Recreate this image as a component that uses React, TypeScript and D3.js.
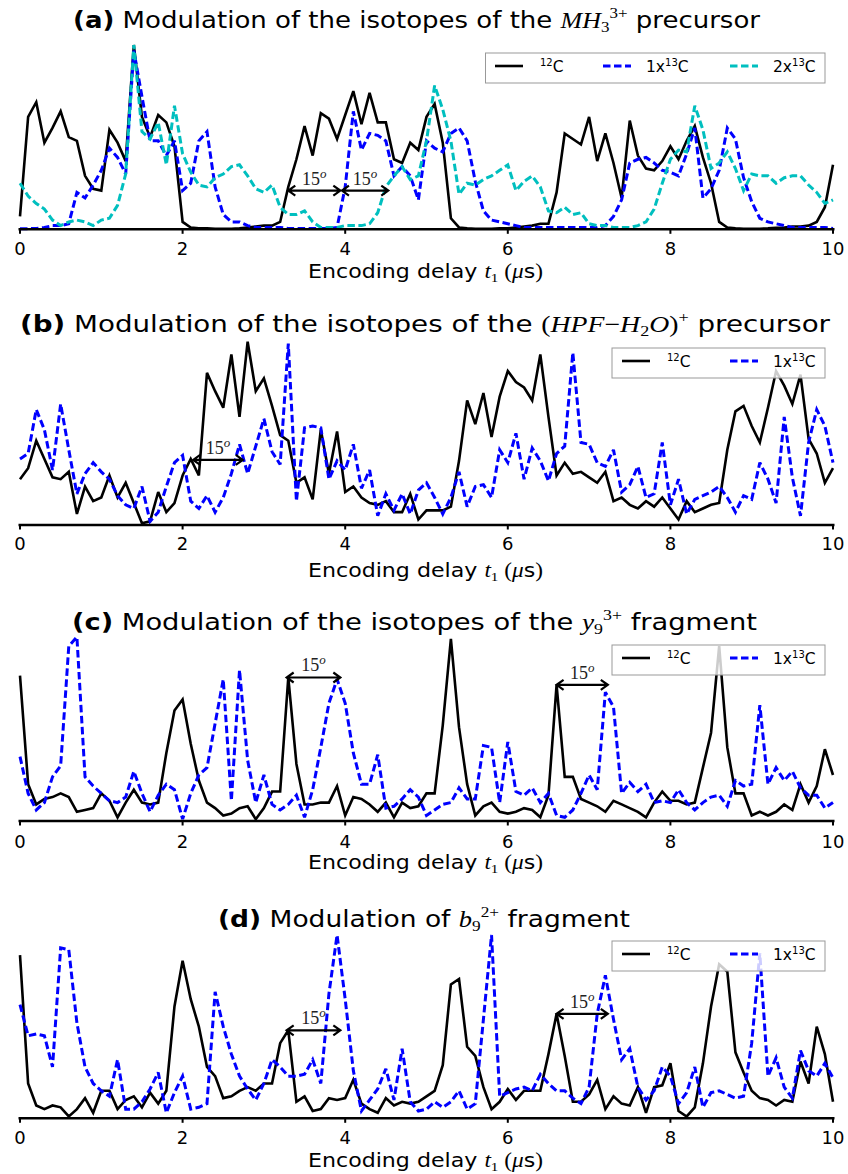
import React from 'react';
import * as d3 from 'd3';

// Sampling of the encoding delay t1 (µs)
const TIME_STEP = 0.1;
const X_DOMAIN: [number, number] = [0, 10];
const X_TICKS = [0, 2, 4, 6, 8, 10];

// (a) MH3 3+ precursor
const A_C12 = [7,61,69,47,55,64,50,48,29,22, 21,54,47,37,100,61,50,62,58,45, 4,1,0.5,0.5,0.3,0.3,0.3,0.5,1,1.5, 2,2,4,23,38,56,40,63,60,49, 62,75,57,74,58,58,38,36,47,43, 61,68,47,6,1,0.5,0.3,0.3,0.3,0.5, 0.5,1,1.5,2,3,3,20,52,49,46, 61,37,52,36,17,59,40,33,32,37, 45,38,48,56,39,25,4,1,0.5,0.3, 0.3,0.3,0.5,0.8,1,1.5,1.5,2,4,12, 35];
const A_1X13C = [0.3,0.3,0.5,1,2,2,3,20,17,24, 32,44,39,30,97,72,48,48,40,48, 21,25,48,53,23,8,4,4,2,1, 1,1,1,0.5,0.5,0.5,0.5,0.5,0.5,1, 23,64,43,52,51,48,29,34,29,16, 48,44,42,52,55,48,26,10,5,4, 3,2,1,1,1,1,1,1,1,1, 1,1,2,7,16,36,38,39,36,32, 31,29,41,55,17,22,32,55,49,28, 15,6,4,3,2,1,1,1,1,1, 0.5];
const A_2X13C = [25,18,14,11,5,2,4,5,4,2, 5,6,13,30,100,53,49,58,35,67, 41,31,24,23,28,30,34,35,29,22, 20,24,12,8,8,10,4,1,1,1, 2,2,2,3,9,23,29,34,27,29, 48,78,65,48,19,25,24,27,29,32, 35,21,26,29,23,10,9,12,8,9, 3,2,2,1,1,1,2,4,11,25, 38,43,42,67,54,33,36,42,33,21, 30,29,29,25,28,29,29,24,20,14, 16];

// (b) (HPF - H2O)+ precursor
const B_C12 = [25,31,46,36,26,25,29,6,21,13, 15,27,15,23,12,1,2,18,7,12, 27,36,27,83,73,64,93,59,100,73, 80,65,49,46,23,26,14,52,28,51, 18,21,15,12,11,13,7,7,17,3, 8,8,8,10,35,68,55,72,48,70, 84,78,75,68,93,59,27,34,28,29, 26,23,29,13,15,11,9,13,10,15, 9,3,13,7,9,11,12,41,62,65, 54,45,64,84,76,66,82,47,39,23, 31];
const B_1X13C = [36,39,63,52,30,66,41,17,28,34, 29,25,16,11,9,21,2,7,21,34, 38,13,9,16,7,15,28,44,28,43, 58,40,33,99,13,53,54,53,25,35, 30,44,20,30,5,17,8,17,6,19, 23,15,6,15,29,10,21,22,15,41, 34,50,25,42,35,24,39,43,94,45, 44,34,32,41,18,22,32,15,17,45, 11,25,6,14,16,18,21,15,7,16, 14,34,25,12,59,26,5,45,63,54, 34];

// (c) y9 3+ fragment
const C_C12 = [79,20,9,12,13,15,13,5,6,7, 15,11,2,10,17,10,9,10,37,60, 66,42,22,10,7,3,4,7,8,1, 7,16,16,78,31,9,9,10,10,19, 3,13,12,9,5,10,2,10,7,8, 15,15,52,99,51,20,3,8,10,5, 4,5,7,6,2,14,74,24,24,12, 10,8,5,11,9,7,5,2,10,16, 11,11,9,10,29,48,95,40,15,15, 3,5,3,5,9,6,20,10,19,39, 25];
const C_1X13C = [35,15,6,10,24,30,95,100,24,19, 15,11,10,13,27,15,5,14,20,17, 1,15,25,29,53,77,11,82,33,10, 25,9,6,9,14,2,17,40,64,77, 64,37,20,20,36,7,8,12,17,13, 3,6,9,10,18,12,12,41,40,10, 43,16,14,18,10,15,3,2,6,15, 25,17,70,62,15,21,16,20,10,11, 10,17,10,6,10,13,14,8,22,19, 20,63,20,29,22,27,18,14,14,7, 10];

// (d) b9 2+ fragment
const D_C12 = [89,19,7,5,7,6,1,5,11,3, 15,15,5,10,12,6,14,8,15,61, 86,65,50,28,23,11,12,15,17,15, 19,19,41,48,9,12,4,5,11,10, 11,21,8,5,3,11,7,9,8,9, 12,15,29,73,76,39,34,17,5,9, 16,10,15,15,15,35,57,34,9,9, 13,21,5,12,8,7,17,3,17,18, 30,4,1,6,30,61,84,80,36,25, 15,11,10,7,10,9,31,19,50,35, 9];
const D_1X13C = [62,45,46,45,28,93,92,52,28,19, 15,12,32,5,5,9,16,25,3,14, 23,5,6,8,69,50,35,23,16,10, 19,32,28,23,23,24,32,19,68,100, 65,26,4,10,16,27,10,38,9,4, 5,9,6,9,15,5,8,54,100,12, 14,16,17,15,24,19,15,15,11,8, 17,57,78,54,32,38,17,10,15,28, 23,8,14,28,6,14,15,13,11,12, 41,90,23,33,17,11,37,26,23,30, 22];

// 15° phase-shift arrows: [t start, t end, level]
const A_ARROWS = [[3.30, 3.94, 21], [3.96, 4.53, 21]];
const B_ARROWS = [[2.13, 2.74, 35.5]];
const C_ARROWS = [[3.28, 3.94, 78], [6.60, 7.23, 74]];
const D_ARROWS = [[3.28, 3.94, 48], [6.60, 7.23, 57]];

const LEGEND_LABELS = [['', '12', 'C'], ['1x', '13', 'C'], ['2x', '13', 'C']];

const SANS = 'DejaVu Sans';
const SERIF = 'Liberation Serif';
const BLACK = '#000000';
const BLUE = '#0000ff';
const CYAN = '#00bfbf';
const DASH = '7.5,3.5';

type SeriesDef = { values: number[]; color: string; dash?: string; label: string[] };

type PanelDef = {
  key: string;
  top: number;
  base: number;
  titleY: number;
  titleX: number;
  titleLen: number;
  tickY: number;
  xlabelY: number;
  legendY: number;
  legendX: number;
  legendItems: number[];
  series: SeriesDef[];
  arrows: number[][];
  title: React.ReactNode;
};

const TITLE_A = (
  <>
    <tspan fontWeight="bold">(a)</tspan>
    <tspan> Modulation of the isotopes of the </tspan>
    <tspan fontFamily={SERIF} fontStyle="italic">MH</tspan>
    <tspan fontFamily={SERIF} fontSize={15} dy={4}>3</tspan>
    <tspan fontFamily={SERIF} fontSize={15} dy={-14}>3+</tspan>
    <tspan dy={10}>{'  precursor'}</tspan>
  </>
);
const TITLE_B = (
  <>
    <tspan fontWeight="bold">(b)</tspan>
    <tspan> Modulation of the isotopes of the </tspan>
    <tspan fontFamily={SERIF}>(</tspan>
    <tspan fontFamily={SERIF} fontStyle="italic">HPF</tspan>
    <tspan fontFamily={SERIF}>{'\u2212'}</tspan>
    <tspan fontFamily={SERIF} fontStyle="italic">H</tspan>
    <tspan fontFamily={SERIF} fontSize={15} dy={4}>2</tspan>
    <tspan fontFamily={SERIF} fontStyle="italic" dy={-4}>O</tspan>
    <tspan fontFamily={SERIF}>)</tspan>
    <tspan fontFamily={SERIF} fontSize={15} dy={-10}>+</tspan>
    <tspan dy={10}>{' precursor'}</tspan>
  </>
);
const TITLE_C = (
  <>
    <tspan fontWeight="bold">(c)</tspan>
    <tspan> Modulation of the isotopes of the </tspan>
    <tspan fontFamily={SERIF} fontStyle="italic">y</tspan>
    <tspan fontFamily={SERIF} fontSize={15} dy={4}>9</tspan>
    <tspan fontFamily={SERIF} fontSize={15} dy={-14}>3+</tspan>
    <tspan dy={10}>{'  fragment'}</tspan>
  </>
);
const TITLE_D = (
  <>
    <tspan fontWeight="bold">(d)</tspan>
    <tspan> Modulation of </tspan>
    <tspan fontFamily={SERIF} fontStyle="italic">b</tspan>
    <tspan fontFamily={SERIF} fontSize={15} dy={4}>9</tspan>
    <tspan fontFamily={SERIF} fontSize={15} dy={-14}>2+</tspan>
    <tspan dy={10}>{'  fragment'}</tspan>
  </>
);

const PANELS: PanelDef[] = [
  {
    key: 'a', top: 45, base: 229.3, titleY: 28, titleX: 416.5, titleLen: 687, tickY: 255, xlabelY: 278,
    legendY: 53, legendX: 485.5, legendItems: [495, 603, 730],
    series: [
      { values: A_C12, color: BLACK, label: LEGEND_LABELS[0] },
      { values: A_1X13C, color: BLUE, dash: DASH, label: LEGEND_LABELS[1] },
      { values: A_2X13C, color: CYAN, dash: DASH, label: LEGEND_LABELS[2] },
    ],
    arrows: A_ARROWS, title: TITLE_A,
  },
  {
    key: 'b', top: 341.7, base: 525, titleY: 332, titleX: 425, titleLen: 810, tickY: 550, xlabelY: 577,
    legendY: 348, legendX: 612, legendItems: [622, 730],
    series: [
      { values: B_C12, color: BLACK, label: LEGEND_LABELS[0] },
      { values: B_1X13C, color: BLUE, dash: DASH, label: LEGEND_LABELS[1] },
    ],
    arrows: B_ARROWS, title: TITLE_B,
  },
  {
    key: 'c', top: 637, base: 821, titleY: 630, titleX: 414.5, titleLen: 685, tickY: 848, xlabelY: 869,
    legendY: 645, legendX: 612, legendItems: [622, 730],
    series: [
      { values: C_C12, color: BLACK, label: LEGEND_LABELS[0] },
      { values: C_1X13C, color: BLUE, dash: DASH, label: LEGEND_LABELS[1] },
    ],
    arrows: C_ARROWS, title: TITLE_C,
  },
  {
    key: 'd', top: 935, base: 1118.3, titleY: 927, titleX: 424, titleLen: 412, tickY: 1144, xlabelY: 1167,
    legendY: 941, legendX: 612, legendItems: [622, 730],
    series: [
      { values: D_C12, color: BLACK, label: LEGEND_LABELS[0] },
      { values: D_1X13C, color: BLUE, dash: DASH, label: LEGEND_LABELS[1] },
    ],
    arrows: D_ARROWS, title: TITLE_D,
  },
];

const X_LEFT = 20;
const X_RIGHT = 833;
const LEGEND_RIGHT = 825;

function Panel({ p }: { p: PanelDef }) {
  const x = d3.scaleLinear().domain(X_DOMAIN).range([X_LEFT, X_RIGHT]);
  const y = d3.scaleLinear().domain([0, 100]).range([p.base, p.top]);
  const line = d3
    .line<number>()
    .x((_, i) => x(i * TIME_STEP))
    .y((v) => y(v));

  return (
    <g>
      <text
        x={p.titleX}
        y={p.titleY}
        textAnchor="middle"
        fontFamily={SANS}
        fontSize={23}
        fill="#000"
        textLength={p.titleLen}
        lengthAdjust="spacingAndGlyphs"
      >
        {p.title}
      </text>

      {p.series.map((s, i) => (
        <path
          key={i}
          d={line(s.values) || ''}
          fill="none"
          stroke={s.color}
          strokeWidth={s.dash ? 3 : 2.6}
          strokeDasharray={s.dash}
          strokeLinejoin="miter"
          strokeMiterlimit={3}
        />
      ))}

      <line x1={X_LEFT - 1.5} x2={X_RIGHT + 1.5} y1={p.base} y2={p.base} stroke="#000" strokeWidth={2.6} />
      {X_TICKS.map((t) => (
        <g key={t}>
          <line x1={x(t)} x2={x(t)} y1={p.base} y2={p.base + 4.5} stroke="#000" strokeWidth={2} />
          <text x={x(t)} y={p.tickY} textAnchor="middle" fontFamily={SANS} fontSize={18} fill="#000">
            {t}
          </text>
        </g>
      ))}
      <text
        x={425.5}
        y={p.xlabelY}
        textAnchor="middle"
        fontFamily={SANS}
        fontSize={19}
        fill="#000"
        textLength={235}
        lengthAdjust="spacingAndGlyphs"
      >
        <tspan>Encoding delay </tspan>
        <tspan fontFamily={SERIF} fontStyle="italic" fontSize={20}>t</tspan>
        <tspan fontFamily={SERIF} fontSize={13} dy={4}>1</tspan>
        <tspan fontFamily={SERIF} fontSize={20} dy={-4}>{' ('}</tspan>
        <tspan fontFamily={SERIF} fontStyle="italic" fontSize={20}>{'\u03bc'}</tspan>
        <tspan>s</tspan>
        <tspan fontFamily={SERIF} fontSize={20}>)</tspan>
      </text>

      {p.arrows.map(([t0, t1, v], i) => {
        const x0 = x(t0);
        const x1 = x(t1);
        const yy = y(v);
        const h = 7;
        const w = 5;
        return (
          <g key={i}>
            <path
              d={`M${x0},${yy}L${x1},${yy}M${x0 + h},${yy - w}L${x0},${yy}L${x0 + h},${yy + w}M${x1 - h},${yy - w}L${x1},${yy}L${x1 - h},${yy + w}`}
              fill="none"
              stroke="#000"
              strokeWidth={2.2}
            />
            <text x={(x0 + x1) / 2} y={yy - 6} textAnchor="middle" fontFamily={SERIF} fontSize={18} fill="#222">
              <tspan>15</tspan>
              <tspan fontStyle="italic" fontSize={13} dy={-7}>o</tspan>
            </text>
          </g>
        );
      })}

      <rect
        x={p.legendX}
        y={p.legendY}
        width={LEGEND_RIGHT - p.legendX}
        height={30}
        fill="#ffffff"
        fillOpacity={0.8}
        stroke="#999"
        strokeWidth={1}
      />
      {p.series.map((s, i) => {
        const lx = p.legendItems[i];
        const ly = p.legendY + 13;
        return (
          <g key={i}>
            <line
              x1={lx}
              x2={lx + 28}
              y1={ly}
              y2={ly}
              stroke={s.color}
              strokeWidth={s.dash ? 3 : 2.6}
              strokeDasharray={s.dash}
            />
            <text x={lx + (i === 0 ? 45 : 43)} y={ly + 6} fontFamily={SANS} fontSize={15.5} fill="#000">
              <tspan>{s.label[0]}</tspan>
              <tspan fontSize={10} dy={-6}>{s.label[1]}</tspan>
              <tspan dy={6}>{s.label[2]}</tspan>
            </text>
          </g>
        );
      })}
    </g>
  );
}

export default function App() {
  return (
    <svg
      width={848}
      height={1174}
      viewBox="0 0 848 1174"
      style={{ position: 'absolute', left: 0, top: 0, display: 'block', background: '#fff' }}
    >
      <rect width={848} height={1174} fill="#fff" />
      {PANELS.map((p) => (
        <Panel key={p.key} p={p} />
      ))}
    </svg>
  );
}
